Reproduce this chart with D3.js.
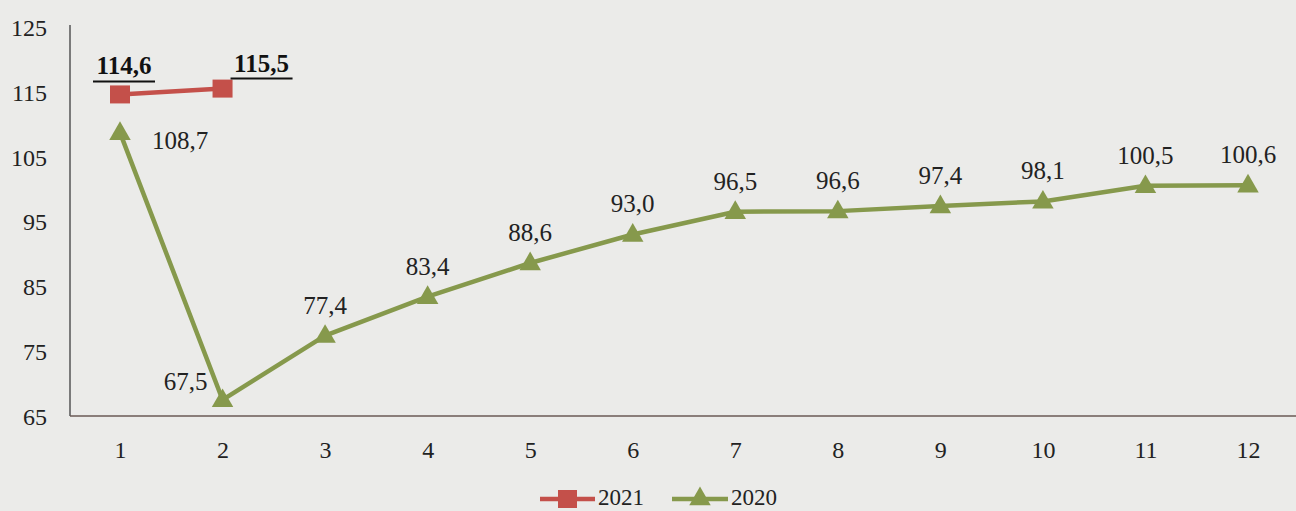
<!DOCTYPE html>
<html><head><meta charset="utf-8">
<script src="https://cdn.jsdelivr.net/npm/d3@7"></script>
<style>body{margin:0;background:#ebebe9;} svg{display:block;} text{font-family:"Liberation Serif","Times New Roman",Tinos,"DejaVu Serif",serif;}</style>
</head><body>
<svg id="c" width="1296" height="511"></svg>
<script>
const categories = ["1","2","3","4","5","6","7","8","9","10","11","12"];
const values2020 = [108.7,67.5,77.4,83.4,88.6,93.0,96.5,96.6,97.4,98.1,100.5,100.6];
const values2021 = [114.6,115.5];
const labels2020 = ["108,7","67,5","77,4","83,4","88,6","93,0","96,5","96,6","97,4","98,1","100,5","100,6"];
const labels2021 = ["114,6","115,5"];
const yTicks = [65,75,85,95,105,115,125];

const svg = d3.select("#c");
const red = "#c4504a", green = "#86994c";
const fs = "24px", fl = "25px";

const x = d3.scalePoint().domain(categories).range([120, 1248]);
const y = d3.scaleLinear().domain([65,125]).range([416, 27]);

svg.append("rect").attr("width",1296).attr("height",511).attr("fill","#ebebe9");

const yAxis = d3.axisLeft(y).tickValues(yTicks).tickSize(0).tickPadding(0);
const gy = svg.append("g").attr("transform","translate(70,0)").call(yAxis);
gy.select(".domain").remove();
gy.attr("font-family",null).attr("font-size",null);
gy.selectAll("text").attr("x",-23).attr("dy","0.35em").style("font-size",fs).attr("fill","#222");
svg.append("line").attr("x1",70).attr("x2",70).attr("y1",y(125)-2).attr("y2",y(65)).attr("stroke","#555").attr("stroke-width",1.5);

const xAxis = d3.axisBottom(x).tickSize(0).tickPadding(0);
const gx = svg.append("g").attr("transform","translate(0,416)").call(xAxis);
gx.select(".domain").remove();
gx.attr("font-family",null).attr("font-size",null);
gx.selectAll("text").attr("y",42).attr("dy",null).style("font-size",fs).attr("fill","#222");
svg.append("line").attr("x1",70).attr("x2",1296).attr("y1",416).attr("y2",416).attr("stroke","#6a5a55").attr("stroke-width",1.5);

const d2020 = categories.map((c,i)=>({c, v:values2020[i], l:labels2020[i]}));
const line = d3.line().x(d=>x(d.c)).y(d=>y(d.v));
svg.append("path").datum(d2020).attr("d",line).attr("fill","none").attr("stroke",green).attr("stroke-width",4.5).attr("stroke-linejoin","round");
const tri = d3.symbol().type(d3.symbolTriangle).size(200);
svg.selectAll(".tri").data(d2020).join("path").attr("d",tri)
  .attr("transform",d=>`translate(${x(d.c)},${y(d.v)+1})`).attr("fill",green);

svg.selectAll(".l2020").data(d2020).join("text")
  .attr("x",(d,i)=> i===0 ? x(d.c)+32 : i===1 ? x(d.c)-37 : x(d.c))
  .attr("y",(d,i)=> i===0 ? y(d.v)+16 : i===1 ? y(d.v)-10 : y(d.v)-22)
  .attr("text-anchor",(d,i)=> i===0 ? "start" : "middle")
  .style("font-size",fl).attr("fill","#222")
  .text(d=>d.l);

const d2021 = values2021.map((v,i)=>({c:categories[i], v, l:labels2021[i]}));
svg.append("path").datum(d2021).attr("d",line).attr("fill","none").attr("stroke",red).attr("stroke-width",4.5);
svg.selectAll(".sq").data(d2021).join("rect")
  .attr("x",d=>x(d.c)-10).attr("y",d=>y(d.v)-9).attr("width",20).attr("height",18).attr("fill",red);

const lab21 = svg.selectAll(".l2021").data(d2021).join("g")
  .attr("transform",(d,i)=> i===0 ? `translate(${x(d.c)+4},${y(d.v)-20})` : `translate(${x(d.c)+39},${y(d.v)-17})`);
lab21.append("text").attr("text-anchor","middle")
  .style("font-size",fl).style("font-weight","bold").attr("fill","#111")
  .text(d=>d.l);
lab21.append("line").attr("x1",-31).attr("x2",31).attr("y1",7).attr("y2",7).attr("stroke","#111").attr("stroke-width",2);

const lg = svg.append("g").attr("transform","translate(0,499)");
lg.append("line").attr("x1",540).attr("x2",595).attr("y1",0).attr("y2",0).attr("stroke",red).attr("stroke-width",4.5);
lg.append("rect").attr("x",558).attr("y",-9).attr("width",19).attr("height",18).attr("fill",red);
lg.append("text").attr("x",598).attr("y",6).style("font-size","23px").attr("fill","#222").text("2021");
lg.append("line").attr("x1",672).attr("x2",728).attr("y1",0).attr("y2",0).attr("stroke",green).attr("stroke-width",4.5);
lg.append("path").attr("d",tri).attr("transform","translate(700,0)").attr("fill",green);
lg.append("text").attr("x",731).attr("y",6).style("font-size","23px").attr("fill","#222").text("2020");
</script>
</body></html>
